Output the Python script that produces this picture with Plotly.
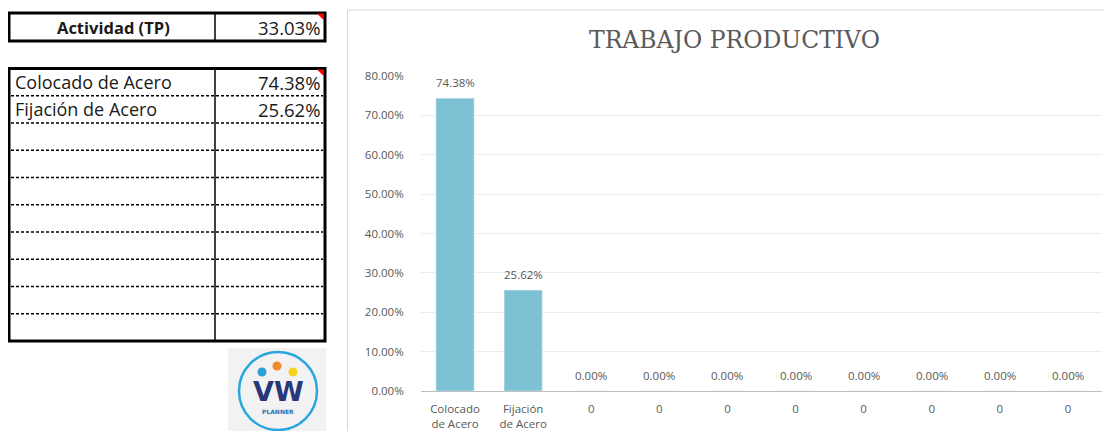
import plotly.graph_objects as go

# page body adds an 8px margin, so the figure is 16px smaller than the window
OFF = 8
FW, FH = 1112 - 2 * OFF, 439 - 2 * OFF

# ---- data ----
resumen_label = "Actividad (TP)"
resumen_valor = 0.3303
actividades = ["Colocado de Acero", "Fijación de Acero"]
actividades_valor = [0.7438, 0.2562]
categorias = ["Colocado<br>de Acero", "Fijación<br>de Acero", "0", "0", "0", "0", "0", "0", "0", "0"]
valores = [0.7438, 0.2562, 0, 0, 0, 0, 0, 0, 0, 0]
y_ticks = [0, 0.1, 0.2, 0.3, 0.4, 0.5, 0.6, 0.7, 0.8]
n_filas = 10

# reference-pixel -> paper coordinates
px = lambda x: (x - OFF) / FW
py = lambda y: 1 - (y - OFF) / FH

gris = "#595959"
fig = go.Figure()

fig.add_trace(go.Bar(
    x=list(range(len(valores))), y=valores,
    marker_color="#7DC2D4",
    hoverinfo="skip",
))

shapes = []
ann = []

# bar value labels
for i, v in enumerate(valores):
    ann.append(dict(xref="x", yref="y", x=i, y=v, yshift=16, text=f"{v:.2%}", showarrow=False,
                    font=dict(size=11.5, color=gris, family="Open Sans"), yanchor="middle"))

def texto(x, y, s, size, color="#1a1a1a", family="Open Sans", xanchor="center"):
    ann.append(dict(xref="paper", yref="paper", x=px(x), y=py(y), text=s, showarrow=False,
                    font=dict(size=size, color=color, family=family), xanchor=xanchor, yanchor="middle"))

def linea(x0, y0, x1, y1, **line):
    shapes.append(dict(type="line", xref="paper", yref="paper", x0=px(x0), x1=px(x1), y0=py(y0), y1=py(y1),
                       line=line))

# chart border
shapes.append(dict(type="rect", xref="paper", yref="paper", x0=px(347.5), x1=px(1111), y0=py(10), y1=py(445),
                   line=dict(color="#d9d9d9", width=1)))

# summary box
shapes.append(dict(type="rect", xref="paper", yref="paper", x0=px(9), x1=px(325), y0=py(13), y1=py(41),
                   line=dict(color="black", width=3)))
linea(215, 13, 215, 41, color="black", width=1.5)
texto(113, 27.5, f"<b>{resumen_label}</b>", 16.5)
texto(322, 28, f"{resumen_valor:.2%}", 18.5, xanchor="right")

# activities table
top, fila = 68.5, 27.25
bottom = top + fila * n_filas
shapes.append(dict(type="rect", xref="paper", yref="paper", x0=px(9), x1=px(325), y0=py(top), y1=py(bottom),
                   line=dict(color="black", width=3)))
linea(215, top, 215, bottom, color="black", width=1.5)
for i in range(1, n_filas):
    yy = top + fila * i
    linea(11, yy, 323, yy, color="black", width=1.5, dash="3px,2px")
for i, (lab, val) in enumerate(zip(actividades, actividades_valor)):
    yc = top + fila * i + fila / 2
    texto(13, yc, lab, 18, xanchor="left")
    texto(322, yc, f"{val:.2%}", 18.5, xanchor="right")

# red comment markers
for y0 in (13.5, 69.5):
    shapes.append(dict(type="path", xref="paper", yref="paper",
                       path=f"M {px(317)} {py(y0)} L {px(324)} {py(y0)} L {px(324)} {py(y0 + 7)} Z",
                       fillcolor="red", line=dict(width=0)))

# logo
shapes.append(dict(type="rect", xref="paper", yref="paper", x0=px(228), x1=px(326), y0=py(348), y1=py(445),
                   fillcolor="#f2f2f2", line=dict(width=0), layer="below"))
shapes.append(dict(type="circle", xref="paper", yref="paper", x0=px(239), x1=px(317), y0=py(352), y1=py(430),
                   line=dict(color="#2aa6df", width=2.5)))
for cx, cy, col in [(262, 372, "#2a9fd8"), (277, 366, "#f08a2c"), (293, 372, "#f5d31c")]:
    shapes.append(dict(type="circle", xref="paper", yref="paper", x0=px(cx - 4.5), x1=px(cx + 4.5),
                       y0=py(cy - 4.5), y1=py(cy + 4.5), fillcolor=col, line=dict(width=0)))
texto(278, 391, "<b>VW</b>", 27, color="#27377a", family="DejaVu Sans")
texto(278, 411, "<b>PLANNER</b>", 6, color="#2a6fb5", family="DejaVu Sans")

# title
texto(734, 40, "TRABAJO PRODUCTIVO", 23.5, color=gris, family="DejaVu Serif")

fig.update_layout(
    width=FW, height=FH,
    margin=dict(l=0, r=0, t=0, b=0, autoexpand=False),
    plot_bgcolor="white", paper_bgcolor="white",
    showlegend=False, bargap=0.44,
    shapes=shapes, annotations=ann,
    xaxis=dict(domain=[px(421), px(1102)], tickvals=list(range(len(categorias))), ticktext=categorias,
               range=[-0.5, len(categorias) - 0.5], showline=True, linecolor="#bfbfbf", linewidth=1,
               ticks="outside", ticklen=7, tickcolor="rgba(0,0,0,0)", showgrid=False, zeroline=False,
               tickfont=dict(size=11.5, color=gris, family="Open Sans")),
    yaxis=dict(domain=[py(391), py(76)], range=[0, 0.8], tickvals=y_ticks, tickformat=".2%",
               showgrid=True, gridcolor="#ececec", gridwidth=1, zeroline=False,
               ticks="outside", ticklen=14, tickcolor="rgba(0,0,0,0)",
               tickfont=dict(size=11.5, color=gris, family="Open Sans")),
)

fig.write_html("out.html")
